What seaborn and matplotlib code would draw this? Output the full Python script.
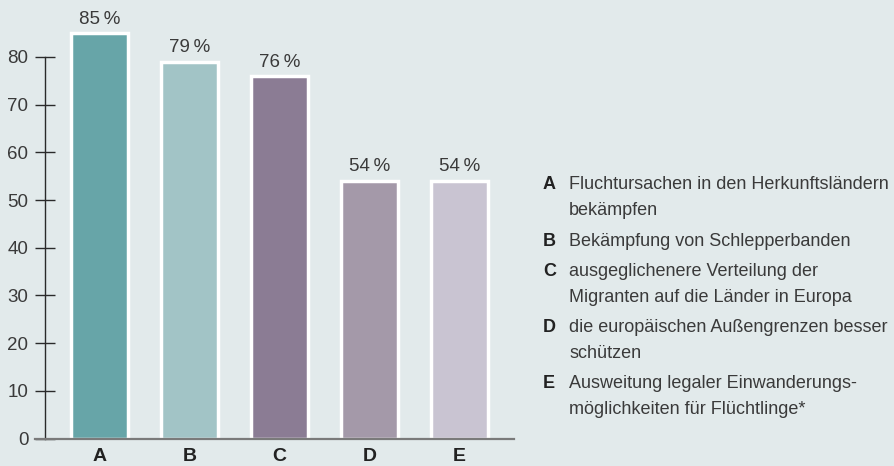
import matplotlib
matplotlib.use('Agg')
import matplotlib.pyplot as plt
import seaborn as sns
import pandas as pd

categories = ['A', 'B', 'C', 'D', 'E']
values = [85, 79, 76, 54, 54]
value_labels = ['85\u2009%', '79\u2009%', '76\u2009%', '54\u2009%', '54\u2009%']
colors = ['#67a5a8', '#a2c4c6', '#8b7c94', '#a499a9', '#c9c4d2']
yticks = [0, 10, 20, 30, 40, 50, 60, 70, 80]
legend_letters = ['A', 'B', 'C', 'D', 'E']
legend_texts = [
    'Fluchtursachen in den Herkunftsländern\nbekämpfen',
    'Bekämpfung von Schlepperbanden',
    'ausgeglichenere Verteilung der\nMigranten auf die Länder in Europa',
    'die europäischen Außengrenzen besser\nschützen',
    'Ausweitung legaler Einwanderungs-\nmöglichkeiten für Flüchtlinge*',
]

sns.set_theme(style='white')
plt.rcParams['font.family'] = ['Liberation Sans', 'DejaVu Sans']

bg = '#e2eaeb'
txt = '#3a3a3a'
W, H = 894, 466
fig = plt.figure(figsize=(W / 100, H / 100), dpi=100, facecolor=bg)
ax = fig.add_axes([35 / W, 27.5 / H, (514 - 35) / W, 429.2 / H])
ax.set_facecolor(bg)

df = pd.DataFrame({'cat': categories, 'val': values})
sns.barplot(data=df, x='cat', y='val', hue='cat', palette=colors, legend=False,
            width=0.64, edgecolor='white', linewidth=2.5, saturation=1, ax=ax)

ax.set_xlim(-0.7167, 4.6056)
ax.set_ylim(0, 90)

for c, lab in zip(ax.containers, value_labels):
    ax.bar_label(c, labels=[lab], padding=4, fontsize=13.5, color=txt)

for s in ['top', 'right']:
    ax.spines[s].set_visible(False)
ax.spines['left'].set_position(('axes', 10 / 479))
ax.spines['left'].set_bounds(0, 80)
ax.spines['left'].set_color('#2a2a2a')
ax.spines['left'].set_linewidth(1.0)
ax.spines['bottom'].set_color('#7a7a7a')
ax.spines['bottom'].set_linewidth(1.6)
ax.spines['bottom'].set_zorder(5)

ax.set_yticks(yticks)
ax.set_yticklabels([str(v) for v in yticks])
ax.tick_params(axis='y', direction='inout', length=14, width=1.0, color='#2a2a2a',
               labelsize=13.5, labelcolor=txt, pad=5, left=True)
ax.tick_params(axis='x', length=0, labelsize=14, labelcolor='#222222', pad=6.5)
for t in ax.get_xticklabels():
    t.set_fontweight('bold')
ax.set_xlabel('')
ax.set_ylabel('')

ys = [185, 241, 271, 327, 383]
fs = 13
for y, letter, text in zip(ys, legend_letters, legend_texts):
    fig.text(543 / W, 1 - y / H, letter, fontsize=fs, fontweight='bold',
             color='#222222', va='center', ha='left')
    fig.text(569 / W, 1 - y / H, text.split('\n')[0], fontsize=fs, color=txt,
             va='center', ha='left')
    if '\n' in text:
        fig.text(569 / W, 1 - (y + 26) / H, text.split('\n')[1], fontsize=fs,
                 color=txt, va='center', ha='left')

fig.savefig('out.png', dpi=100, facecolor=bg)
